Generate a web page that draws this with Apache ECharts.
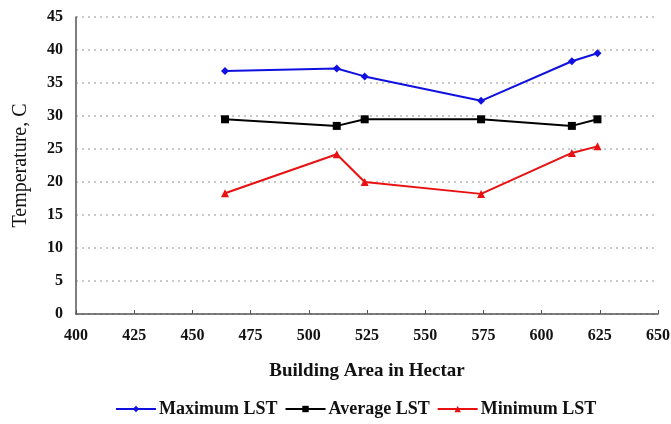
<!DOCTYPE html>
<html>
<head>
<meta charset="utf-8">
<script src="https://cdn.jsdelivr.net/npm/echarts@6/dist/echarts.min.js"></script>
<style>
  html, body { margin: 0; padding: 0; background: #fff; }
  #chart { width: 671px; height: 424px; }
</style>
</head>
<body>
<div id="chart"></div>
<script>
// Building area (hectare) sampled for each land-surface temperature reading
const buildingArea = [464, 512, 524, 574, 613, 624];
const maxLST = [36.8, 37.2, 36.0, 32.3, 38.3, 39.5];
const avgLST = [29.5, 28.5, 29.5, 29.5, 28.5, 29.5];
const minLST = [18.3, 24.2, 20.0, 18.2, 24.4, 25.4];

const seriesNames = ['Maximum LST', 'Average LST', 'Minimum LST'];
const seriesColors = ['#1010e0', '#000000', '#e81010'];
const seriesSymbols = ['diamond', 'rect', 'triangle'];
const seriesValues = [maxLST, avgLST, minLST];

const serif = '"Liberation Serif", "Times New Roman", serif';

const chart = echarts.init(document.getElementById('chart'));
chart.setOption({
  animation: false,
  grid: { left: 76, right: 13, top: 17, bottom: 110, containLabel: false, outerBoundsMode: 'none' },
  legend: {
    bottom: 1,
    left: 110,
    itemWidth: 40,
    itemHeight: 8,
    itemGap: 7,
    data: seriesNames,
    textStyle: { fontFamily: serif, fontWeight: 'bold', fontSize: 18, color: '#111', padding: [0, 0, 0, -2] }
  },
  xAxis: {
    type: 'value',
    min: 400, max: 650, interval: 25,
    name: 'Building Area in Hectar',
    nameLocation: 'middle',
    nameGap: 48,
    nameTextStyle: { fontFamily: serif, fontWeight: 'bold', fontSize: 19, color: '#111' },
    axisLine: { lineStyle: { color: '#555', width: 1.5 } },
    axisTick: { show: true, inside: true, length: 4, lineStyle: { color: '#555' } },
    axisLabel: { fontFamily: serif, fontWeight: 'bold', fontSize: 16, color: '#111', margin: 14 },
    splitLine: { show: false }
  },
  yAxis: {
    type: 'value',
    min: 0, max: 45, interval: 5,
    name: 'Temperature, C',
    nameLocation: 'middle',
    nameGap: 45,
    nameTextStyle: { fontFamily: serif, fontSize: 20, color: '#111' },
    axisLine: { show: true, lineStyle: { color: '#555', width: 1.5 } },
    axisTick: { show: false },
    axisLabel: { fontFamily: serif, fontWeight: 'bold', fontSize: 16, color: '#111', margin: 13 },
    splitLine: { show: true, lineStyle: { color: '#b8b8b8', type: [2, 4], width: 1.5 } }
  },
  series: seriesNames.map((name, i) => ({
    name,
    type: 'line',
    data: buildingArea.map((x, j) => [x, seriesValues[i][j]]),
    symbol: seriesSymbols[i],
    symbolSize: 8,
    color: seriesColors[i],
    lineStyle: { width: 2, color: seriesColors[i] },
    itemStyle: { color: seriesColors[i] }
  }))
});
</script>
</body>
</html>
